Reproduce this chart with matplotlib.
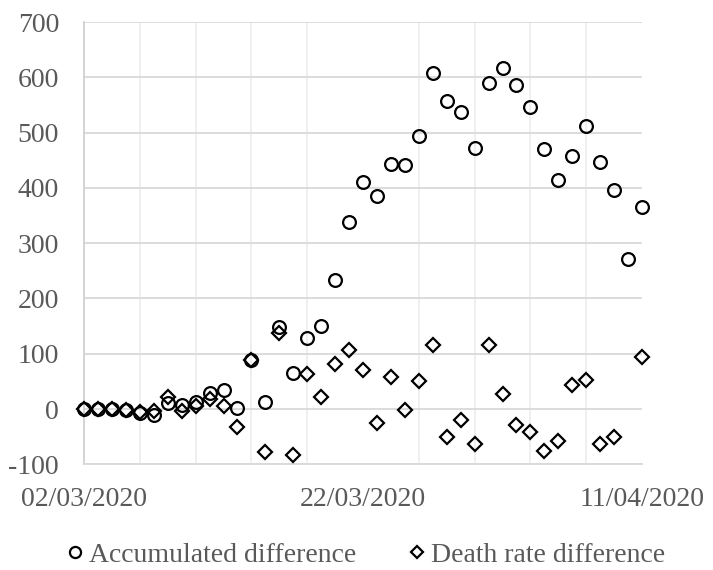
import numpy as np
import matplotlib
matplotlib.use("Agg")
import matplotlib.pyplot as plt
from matplotlib.lines import Line2D

# ---- data ----
days = np.arange(41)  # day offsets from 02/03/2020
accumulated = [0, 0, 0, -2, -8, -11, 11, 8, 12, 29, 34, 2, 89, 12, 149, 65, 128, 151,
               233, 339, 410, 386, 443, 442, 493, 608, 558, 538, 473, 590, 616, 586,
               546, 471, 414, 458, 511, 446, 397, 272, 366]
death_rate = [0, 0, 0, -1, -6, -3, 22, -3, 6, 18, 5, -33, 88, -77, 137, -84, 63, 22,
              82, 106, 71, -25, 58, -1, 51, 115, -50, -20, -64, 116, 27, -29, -42, -76,
              -57, 43, 53, -64, -50, -125, 94]
x_tick_pos = [0, 20, 40]
x_tick_labels = ["02/03/2020", "22/03/2020", "11/04/2020"]
y_ticks = [-100, 0, 100, 200, 300, 400, 500, 600, 700]
Y_MIN, Y_MAX = -100, 700

plt.rcParams['font.family'] = ['Liberation Serif', 'DejaVu Serif']
TXT = '#595959'

fig = plt.figure(figsize=(7.13, 5.70), dpi=100)
ax = fig.add_axes([84/713, 1-464.3/570, (642-84)/713, (464.3-22)/570])

# points outside the value axis range are hidden (as in the reference)
acc_m = np.ma.masked_outside(np.array(accumulated, float), Y_MIN, Y_MAX)
dr_m = np.ma.masked_outside(np.array(death_rate, float), Y_MIN, Y_MAX)

ax.plot(days, acc_m, linestyle='none', marker='o', markersize=9.2,
        markeredgewidth=1.6, markeredgecolor='black', fillstyle='none',
        zorder=3, clip_on=False)
ax.plot(days, dr_m, linestyle='none', marker='D', markersize=7.6,
        markeredgewidth=1.6, markeredgecolor='black', fillstyle='none',
        zorder=4, clip_on=False)

ax.set_xlim(0, 40)
ax.set_ylim(Y_MIN, Y_MAX)
ax.set_yticks(y_ticks)
ax.set_yticklabels([str(v) for v in y_ticks])
ax.set_xticks(x_tick_pos)
ax.set_xticklabels(x_tick_labels)
ax.set_xticks(np.arange(0, 41, 4), minor=True)

ax.grid(True, axis='y', which='major', color='#d9d9d9', linewidth=1.3, zorder=0)
ax.grid(True, axis='x', which='minor', color='#eeeeee', linewidth=1.3, zorder=0)
ax.set_axisbelow(True)

for s in ['top', 'right']:
    ax.spines[s].set_visible(False)
ax.spines['left'].set_color('#d0d0d0')
ax.spines['bottom'].set_color('#d9d9d9')
ax.spines['left'].set_linewidth(1.3)
ax.spines['bottom'].set_linewidth(1.3)

ax.tick_params(axis='both', which='both', length=0, labelsize=20, labelcolor=TXT)
ax.tick_params(axis='y', pad=18)
ax.tick_params(axis='x', pad=16)

handles = [Line2D([], [], linestyle='none', marker='o', markersize=8,
                  markeredgewidth=1.6, markeredgecolor='black', fillstyle='none'),
           Line2D([], [], linestyle='none', marker='D', markersize=6.6,
                  markeredgewidth=1.6, markeredgecolor='black', fillstyle='none')]
leg = fig.legend(handles, ["Accumulated difference", "Death rate difference"],
                 loc='center', bbox_to_anchor=(366/713, 1-555/570), ncol=2,
                 frameon=False, fontsize=20, handlelength=0.6, handletextpad=0.2,
                 columnspacing=1.9, labelcolor=TXT)

fig.savefig("out.png", dpi=100)
